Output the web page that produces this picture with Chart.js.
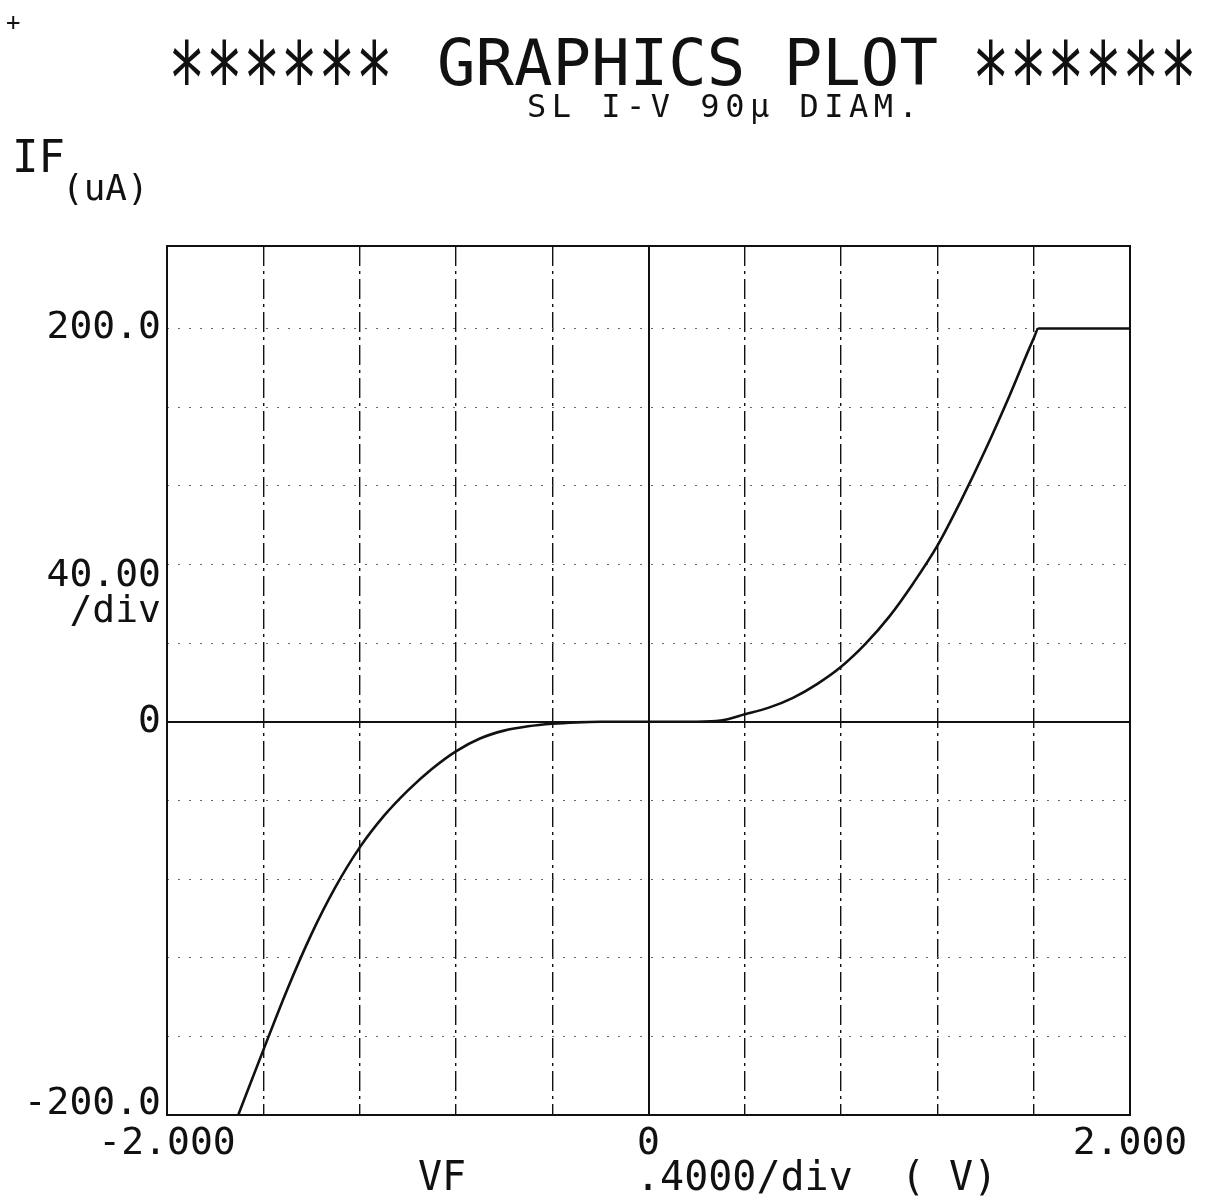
<!DOCTYPE html>
<html lang="en">
<head>
<meta charset="UTF-8">
<script src="https://cdn.jsdelivr.net/npm/chart.js"></script>
<title>SL I-V 90µ DIAM.</title>
<style>
  html, body { margin: 0; padding: 0; background: #fff; }
  #wrap { width: 1217px; height: 1203px; position: relative; }
</style>
</head>
<body>
<div id="wrap"><canvas id="plot"></canvas></div>
<script>
// forward voltage (V) and current (uA)
const vf  = [-1.704, -1.6, -1.5, -1.4, -1.3, -1.2, -1.1, -1.0, -0.9, -0.8, -0.7, -0.6, -0.5, -0.4, -0.3, -0.2, 0, 0.2, 0.3, 0.4, 0.5, 0.6, 0.7, 0.8, 0.9, 1.0, 1.1, 1.2, 1.3, 1.4, 1.5, 1.6, 1.62, 2.0];
const ifa = [-200, -167, -136, -108, -84, -64, -48, -35, -24, -15, -8.5, -4.5, -2.3, -1, -0.3, 0, 0, 0, 0.6, 3.8, 7.2, 12.2, 19.2, 28, 39.5, 53.5, 70.5, 89.6, 113, 138.5, 166, 195, 200, 200];

const xTicks = [-2.0, -1.6, -1.2, -0.8, -0.4, 0, 0.4, 0.8, 1.2, 1.6, 2.0];
const xTickLabels = { '-2': '-2.000', '0': '0', '2': '2.000' };
const yTicks = [-200, -160, -120, -80, -40, 0, 40, 80, 120, 160, 200];
const yTickLabels = { '200': '200.0', '0': '0' };
const xMin = -2, xMax = 2, yMin = -200, yMax = 242;

const MONO = '"DejaVu Sans Mono", monospace';
const INK = '#111';

// draws the frame and the plotter text around the graph
const plotterText = {
  id: 'plotterText',
  afterDraw(chart) {
    const ctx = chart.ctx;
    const a = chart.chartArea;
    const ys = chart.scales.y;
    ctx.save();
    ctx.strokeStyle = INK;
    ctx.lineWidth = 2;
    ctx.strokeRect(a.left, a.top, a.right - a.left, a.bottom - a.top);

    ctx.fillStyle = INK;
    ctx.textBaseline = 'alphabetic';

    ctx.font = '24px ' + MONO;
    ctx.fillText('+', 6, 30);

    // title with big plotter asterisks
    ctx.font = '64px ' + MONO;
    ctx.fillText('GRAPHICS PLOT', 437, 85);
    const stars = (x0) => {
      ctx.save();
      ctx.font = '100px ' + MONO;
      const m = ctx.measureText('******');
      const h = m.actualBoundingBoxAscent + m.actualBoundingBoxDescent;
      const k = 46 / h;
      ctx.translate(x0, 85 - m.actualBoundingBoxDescent * k);
      ctx.scale(225 / m.width, k);
      ctx.fillText('******', 0, 0);
      ctx.restore();
    };
    stars(168);
    stars(972);

    ctx.font = '32px ' + MONO;
    ctx.letterSpacing = '5.5px';
    ctx.fillText('SL I-V 90µ DIAM.', 527, 117);
    ctx.letterSpacing = '0px';

    ctx.font = '44px ' + MONO;
    ctx.fillText('IF', 12, 172);
    ctx.font = '36px ' + MONO;
    ctx.fillText('(uA)', 62, 200);

    // y scale note and bottom label, kept clear of the x labels
    ctx.font = '38px ' + MONO;
    ctx.textAlign = 'right';
    ctx.textBaseline = 'middle';
    ctx.fillText('40.00', 161, ys.getPixelForValue(74));
    ctx.fillText('/div', 161, ys.getPixelForValue(56));
    ctx.fillText('-200.0', 161, ys.getPixelForValue(-200) - 11);

    // x axis caption
    ctx.textAlign = 'left';
    ctx.textBaseline = 'alphabetic';
    ctx.font = '40px ' + MONO;
    ctx.fillText('VF', 418, 1190);
    ctx.fillText('.4000/div  ( V)', 636, 1190);
    ctx.restore();
  }
};

const ctx = document.getElementById('plot').getContext('2d');
new Chart(ctx, {
  type: 'line',
  data: {
    datasets: [{
      label: 'IF',
      data: vf.map((v, i) => ({ x: v, y: ifa[i] })),
      borderColor: INK,
      borderWidth: 2.6,
      pointRadius: 0,
      fill: false,
      cubicInterpolationMode: 'monotone'
    }]
  },
  options: {
    responsive: true,
    maintainAspectRatio: false,
    animation: false,
    layout: { padding: { top: 246, right: 87, left: 0, bottom: 0 } },
    plugins: { legend: { display: false }, tooltip: { enabled: false } },
    scales: {
      x: {
        type: 'linear', min: xMin, max: xMax,
        afterBuildTicks: s => { s.ticks = xTicks.map(v => ({ value: v })); },
        afterFit: s => { s.height = 88; },
        ticks: {
          autoSkip: false, maxRotation: 0, padding: 6, color: INK,
          font: { family: MONO, size: 38 },
          callback: v => xTickLabels[String(v)] ?? ''
        },
        grid: {
          drawTicks: false,
          color: INK,
          lineWidth: c => c.tick && c.tick.value === 0 ? 2 : 1.4
        },
        border: {
          display: false,
          dash: c => c.tick && c.tick.value === 0 ? [] : [20, 5, 3, 5]
        }
      },
      y: {
        type: 'linear', min: yMin, max: yMax,
        afterBuildTicks: s => { s.ticks = yTicks.map(v => ({ value: v })); },
        afterFit: s => { s.width = 167; },
        ticks: {
          autoSkip: false, padding: 6, color: INK,
          font: { family: MONO, size: 38 },
          callback: v => yTickLabels[String(v)] ?? ''
        },
        grid: {
          drawTicks: false,
          color: c => c.tick && c.tick.value === 0 ? INK : '#666',
          lineWidth: c => c.tick && c.tick.value === 0 ? 2 : 1
        },
        border: {
          display: false,
          dash: c => c.tick && c.tick.value === 0 ? [] : [2, 9]
        }
      }
    }
  },
  plugins: [plotterText]
});
</script>
</body>
</html>
